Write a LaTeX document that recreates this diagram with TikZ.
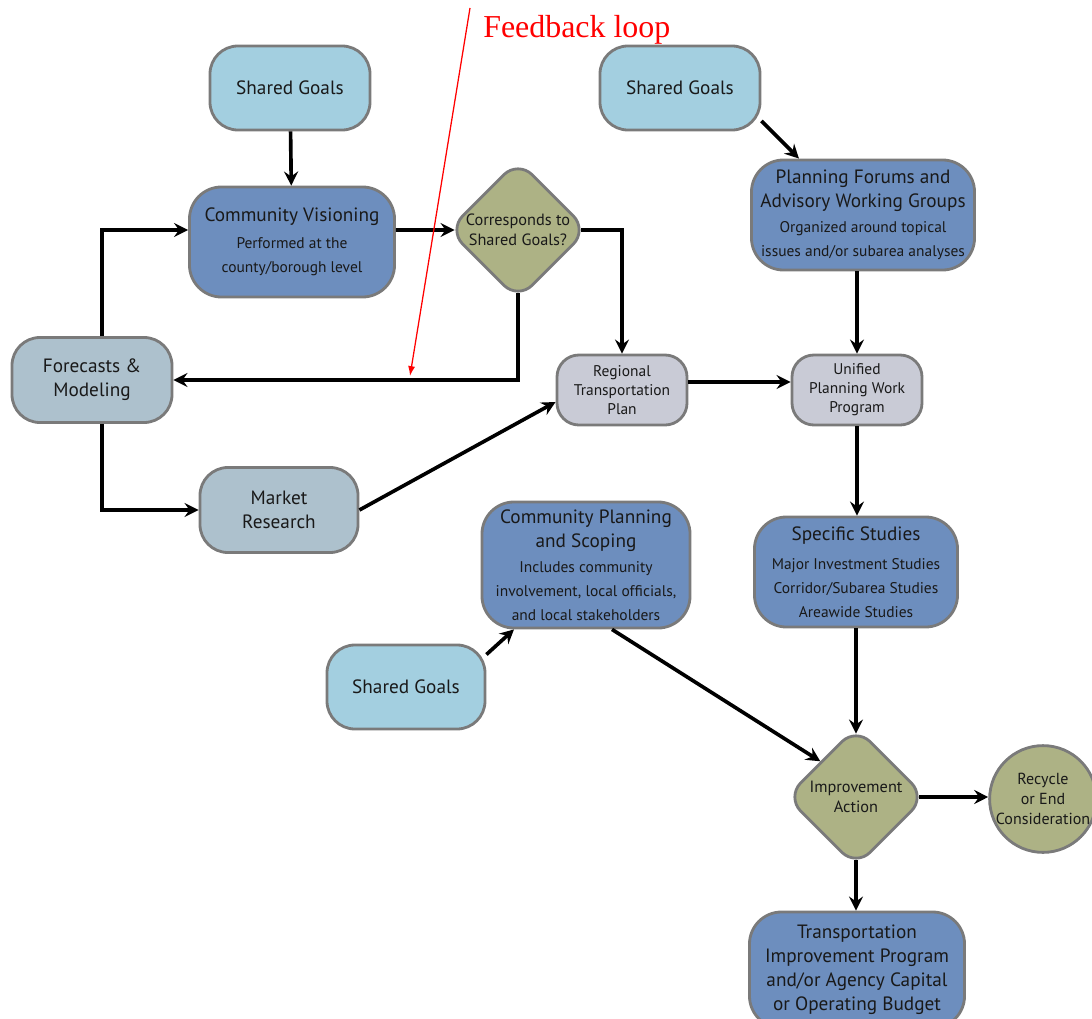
\documentclass[tikz,border=0pt]{standalone}
\usepackage{fontspec}
\setmainfont{PT Sans}
\newfontfamily\notefont{Liberation Serif}
\usetikzlibrary{positioning,arrows.meta,shapes.geometric}

\definecolor{goalblue}{HTML}{A3CFE0}
\definecolor{taskblue}{HTML}{6D8EBE}
\definecolor{modelgray}{HTML}{ADC1CD}
\definecolor{plangray}{HTML}{C9CBD6}
\definecolor{checkolive}{HTML}{ADB285}
\definecolor{edgegray}{HTML}{7A7A7A}
\newcommand{\subfont}{\fontsize{11}{13.5}\selectfont}

\begin{document}
\begin{tikzpicture}[x=0.025cm, y=-0.025cm,
    base/.style={draw=edgegray, line width=2pt, align=center, text=black!90, inner sep=2pt},
    goal/.style={base, fill=goalblue, rounded corners=0.7cm, minimum width=4cm, minimum height=2.1cm, font=\fontsize{13.7}{17}\selectfont},
    task/.style={base, fill=taskblue, rounded corners=0.8cm, minimum height=2.75cm, font=\fontsize{13.7}{17}\selectfont},
    model/.style={base, fill=modelgray, rounded corners=0.7cm, minimum width=4cm, minimum height=2.125cm, font=\fontsize{13.7}{17}\selectfont},
    plan/.style={base, fill=plangray, rounded corners=0.55cm, minimum width=3.25cm, minimum height=1.75cm, font=\fontsize{11}{13.5}\selectfont},
    check/.style={base, diamond, aspect=1, fill=checkolive, rounded corners=0.5cm, inner sep=0pt, minimum size=3.5cm, font=\fontsize{11.6}{14}\selectfont},
    endstate/.style={base, circle, fill=checkolive, inner sep=0pt, minimum size=2.65cm, font=\fontsize{11.4}{14}\selectfont},
    arr/.style={-{Stealth[length=10pt, width=10pt, inset=3.5pt]}, line width=2.6pt},
    fbarrow/.style={-{Latex[length=7pt, width=5pt]}, red, line width=0.9pt},
]
\useasboundingbox (0,0) rectangle (1092,1019);

% left column
\node[goal] (sg1) at (290,88) {Shared Goals};
\node[task, minimum width=5.125cm] (cv) at (292,242) {Community Visioning\\[2pt]\subfont Performed at the\\\subfont county/borough level};
\node[check] (cor) at (518,230) {Corresponds to\\Shared Goals?};
\node[model] (fm) at (92,380) {Forecasts \&\\Modeling};
\node[model, minimum width=3.95cm] (mr) at (279,510) {Market\\Research};

% middle
\node[plan] (rtp) at (622,390) {Regional\\Transportation\\Plan};
\node[task, minimum width=5.2cm, minimum height=3.15cm] (cps) at (586,565) {Community Planning\\and Scoping\\[1pt]\subfont Includes community\\\subfont involvement, local officials,\\\subfont and local stakeholders};
\node[goal, minimum width=3.95cm] (sg3) at (406,687) {Shared Goals};

% right column
\node[goal] (sg2) at (680,88) {Shared Goals};
\node[task, minimum width=5.575cm] (pf) at (863,215) {Planning Forums and\\Advisory Working Groups\\[1pt]\subfont Organized around topical\\\subfont issues and/or subarea analyses};
\node[plan] (upwp) at (857,390) {Unified\\Planning Work\\Program};
\node[task, minimum width=5.075cm] (ss) at (856,572) {Specific Studies\\[4pt]\subfont Major Investment Studies\\\subfont Corridor/Subarea Studies\\\subfont Areawide Studies};
\node[check] (ia) at (856,797) {Improvement\\Action};
\node[endstate] (rec) at (1043,799) {Recycle\\or End\\Consideration};
\node[task, minimum width=5.375cm, minimum height=2.9cm] (tip) at (857,970) {Transportation\\Improvement Program\\and/or Agency Capital\\or Operating Budget};

% feedback note
\node[font=\notefont\fontsize{22.7}{27}\selectfont, text=red, anchor=west, inner sep=0pt] (fblabel) at (483,30) {Feedback loop};
\coordinate (fbtail) at (470,8);
\coordinate (fbhead) at (410,376);

% connectors
\draw[arr] (sg1) -- (cv);
\draw[arr] ([xshift=0.25cm]fm.north) |- ([yshift=0.3cm]cv.west);
\draw[arr, shorten >=-0.2cm] ([yshift=0.3cm]cv.east) -- (cor.west);
\draw[arr, shorten <=-0.2cm] (cor.east) -| (rtp.north);
\draw[arr, shorten <=-0.2cm] (cor.south) |- (fm.east);
\draw[arr] ([xshift=0.25cm]fm.south) |- (mr.west);
\draw[arr] (mr.east) -- ([yshift=-0.3cm]rtp.west);
\draw[arr] ([yshift=0.2cm]rtp.east) -- ([yshift=0.2cm]upwp.west);
\draw[arr] (sg2.-22) -- ([xshift=-1.6cm]pf.north);
\draw[arr] (pf.south -| upwp.north) -- (upwp.north);
\draw[arr] (upwp.south) -- (upwp.south |- ss.north);
\draw[arr, shorten >=-0.2cm] (ss.south -| ia.north) -- (ia.north);
\draw[arr] (sg3.22) -- ([xshift=-1.8cm]cps.south);
\draw[arr] ([xshift=0.65cm]cps.south) -- (ia.north west);
\draw[arr, shorten <=-0.2cm] (ia.east) -- (ia.east -| rec.west);
\draw[arr, shorten <=-0.2cm] (ia.south) -- (ia.south |- tip.north);
\draw[fbarrow] (fbtail) -- (fbhead);

\end{tikzpicture}
\end{document}
